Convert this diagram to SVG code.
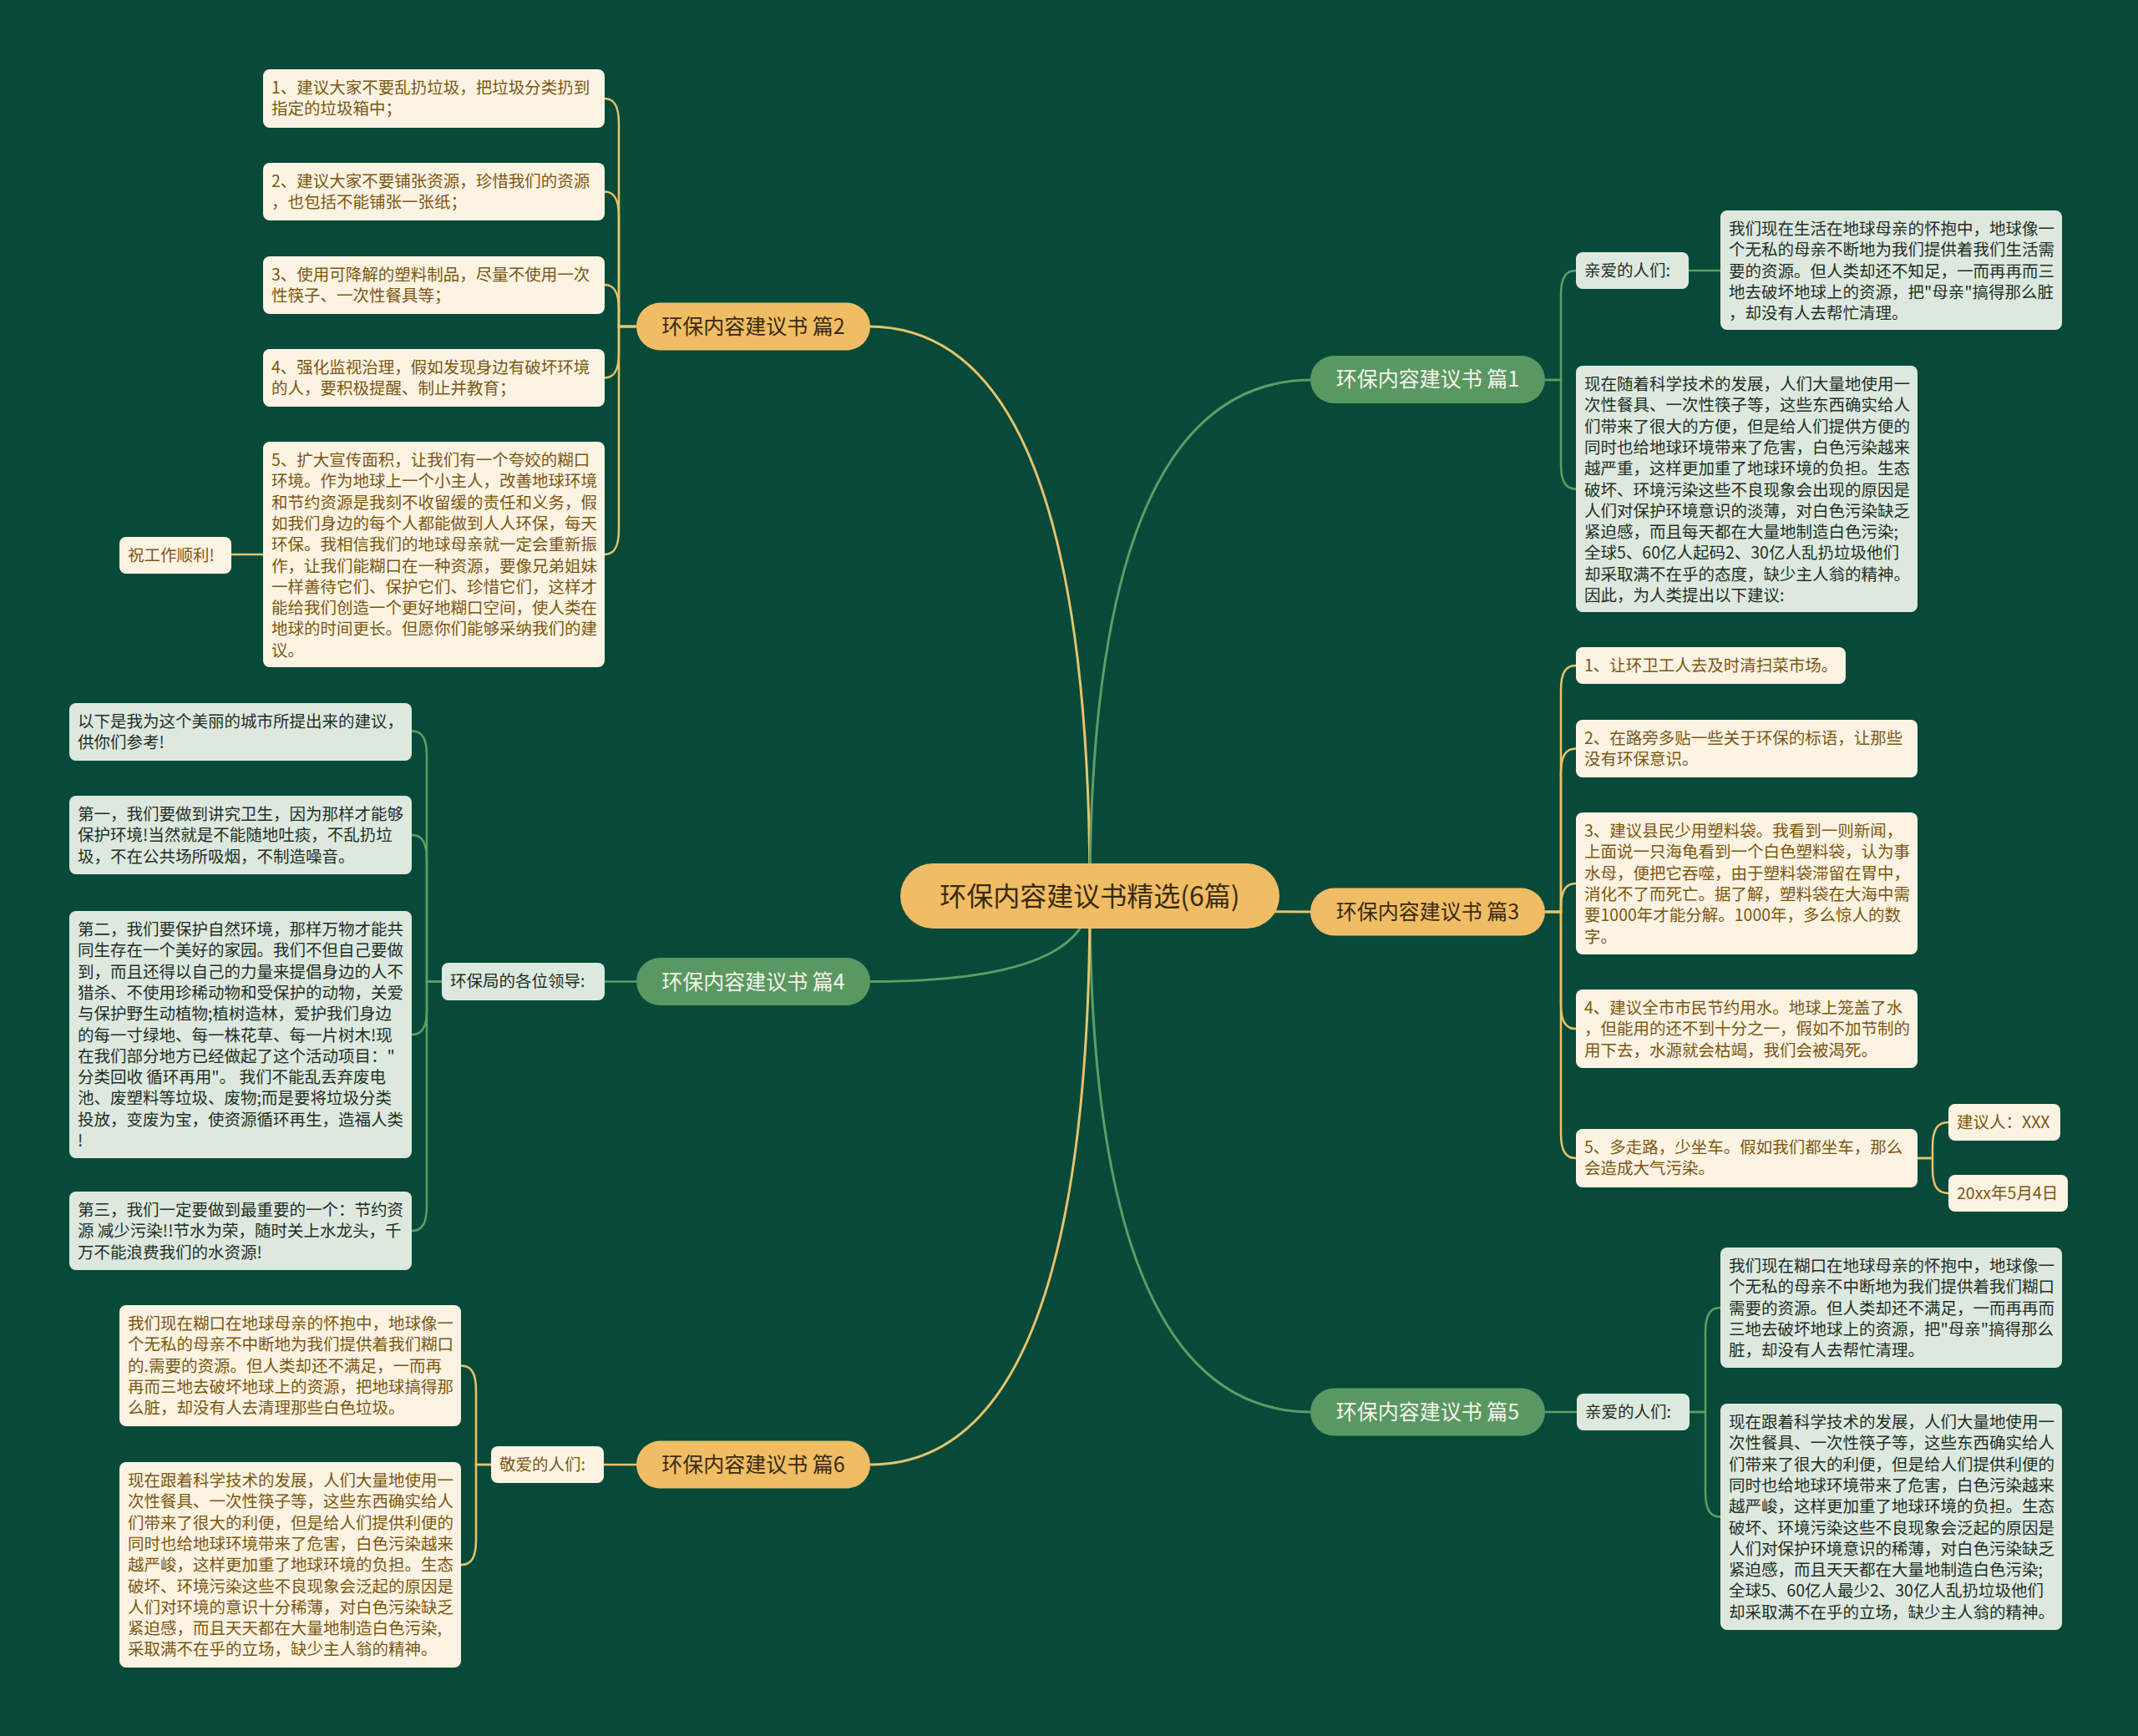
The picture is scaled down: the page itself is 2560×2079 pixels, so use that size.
<svg xmlns="http://www.w3.org/2000/svg" width="2560" height="2079" viewBox="0 0 2560 2079">
<style>
text{font-family:"Noto Sans CJK SC","Noto Sans",sans-serif;}
.gb{fill:#fdf3e2;}
.gt{fill:#7b5712;font-size:19.5px;}
.lb{fill:#dde9df;}
.lt{fill:#1f2f25;font-size:19.5px;}
.pg{fill:#f0bd64;}
.pn{fill:#5a9862;}
.tg{fill:#3a2a10;font-size:25px;text-anchor:middle;}
.tn{fill:#f4f4ea;font-size:25px;text-anchor:middle;}
.cg{fill:none;stroke:#e7c46b;stroke-width:2.5;}
.cn{fill:none;stroke:#5d9e66;stroke-width:2.5;}
.m{stroke-width:3;}
</style>
<rect width="2560" height="2079" fill="#084a3a"/>
<g id="connectors">
<path class="cg m" d="M1305,1073 Q1305,391 1040,391"/>
<path class="cn m" d="M1305,1073 Q1305,455 1571,455"/>
<path class="cg m" d="M1305,1073 Q1305,1092 1571,1092"/>
<path class="cn m" d="M1305,1073 Q1305,1175.5 1042,1175.5"/>
<path class="cn m" d="M1305,1073 Q1305,1691 1571,1691"/>
<path class="cg m" d="M1305,1073 Q1305,1754 1042,1754"/>
<path class="cn" d="M1850,455 H1869 V354 C1869,332 1875,324 1887,324"/>
<path class="cn" d="M1850,455 H1869 V555.5 C1869,577.5 1875,585.5 1887,585.5"/>
<path class="cn" d="M2022,324 H2060"/>
<path class="cg" d="M1850,1092 H1869 V827 C1869,805 1875,797 1887,797"/>
<path class="cg" d="M1850,1092 H1869 V926.5 C1869,904.5 1875,896.5 1887,896.5"/>
<path class="cg" d="M1850,1092 H1869 V1088 C1869,1066 1875,1058 1887,1058"/>
<path class="cg" d="M1850,1092 H1869 V1202 C1869,1224 1875,1232 1887,1232"/>
<path class="cg" d="M1850,1092 H1869 V1357 C1869,1379 1875,1387 1887,1387"/>
<path class="cg" d="M2296,1387 H2314 V1374 C2314,1352 2320,1344 2333,1344"/>
<path class="cg" d="M2296,1387 H2314 V1399 C2314,1421 2320,1429 2333,1429"/>
<path class="cg" d="M762,391 H741 V148 C741,126 735,118 724,118"/>
<path class="cg" d="M762,391 H741 V259.5 C741,237.5 735,229.5 724,229.5"/>
<path class="cg" d="M762,391 H741 V371 C741,349 735,341 724,341"/>
<path class="cg" d="M762,391 H741 V422.5 C741,444.5 735,452.5 724,452.5"/>
<path class="cg" d="M762,391 H741 V634 C741,656 735,664 724,664"/>
<path class="cg" d="M316,664 H277"/>
<path class="cn" d="M762,1175.5 H724"/>
<path class="cn" d="M529,1175.5 H511 V905.5 C511,883.5 505,875.5 493,875.5"/>
<path class="cn" d="M529,1175.5 H511 V1030 C511,1008 505,1000 493,1000"/>
<path class="cn" d="M529,1175.5 H511 V1209 C511,1231 505,1239 493,1239"/>
<path class="cn" d="M529,1175.5 H511 V1444 C511,1466 505,1474 493,1474"/>
<path class="cn" d="M1850,1691 H1888"/>
<path class="cn" d="M2023,1691 H2042 V1596 C2042,1574 2048,1566 2060,1566"/>
<path class="cn" d="M2023,1691 H2042 V1786.5 C2042,1808.5 2048,1816.5 2060,1816.5"/>
<path class="cg" d="M762,1754 H723"/>
<path class="cg" d="M588,1754 H570 V1665.5 C570,1643.5 564,1635.5 552,1635.5"/>
<path class="cg" d="M588,1754 H570 V1844 C570,1866 564,1874 552,1874"/>
</g>
<g id="root">
<rect class="pg" x="1078" y="1034" width="454" height="78" rx="39"/>
<text x="1305" y="1085" style="font-size:32px;fill:#3a2a10;text-anchor:middle">环保内容建议书精选(6篇)</text>
</g>
<g id="b1"><rect class="pn" x="1569" y="426" width="281" height="57" rx="28.5"/><text class="tn" x="1709.5" y="463">环保内容建议书 篇1</text></g>
<g id="b2"><rect class="pg" x="762" y="362.5" width="280" height="57" rx="28.5"/><text class="tg" x="902" y="400">环保内容建议书 篇2</text></g>
<g id="b3"><rect class="pg" x="1569" y="1063.5" width="281" height="57" rx="28.5"/><text class="tg" x="1709.5" y="1101">环保内容建议书 篇3</text></g>
<g id="b4"><rect class="pn" x="762" y="1147" width="280" height="57" rx="28.5"/><text class="tn" x="902" y="1184.5">环保内容建议书 篇4</text></g>
<g id="b5"><rect class="pn" x="1569" y="1662.5" width="281" height="57" rx="28.5"/><text class="tn" x="1709.5" y="1700">环保内容建议书 篇5</text></g>
<g id="b6"><rect class="pg" x="762" y="1725.5" width="280" height="57" rx="28.5"/><text class="tg" x="902" y="1763">环保内容建议书 篇6</text></g>

<g id="b1-l"><rect class="lb" x="1887" y="302" width="135" height="44" rx="8"/><text class="lt" x="1897" y="331">亲爱的人们:</text></g>
<g id="b1-t1"><rect class="lb" x="2060" y="252" width="409" height="143" rx="8"/>
<text class="lt" x="2070" y="281"><tspan x="2070">我们现在生活在地球母亲的怀抱中，地球像一</tspan><tspan x="2070" dy="25.3">个无私的母亲不断地为我们提供着我们生活需</tspan><tspan x="2070" dy="25.3">要的资源。但人类却还不知足，一而再再而三</tspan><tspan x="2070" dy="25.3">地去破坏地球上的资源，把"母亲"搞得那么脏</tspan><tspan x="2070" dy="25.3">，却没有人去帮忙清理。</tspan></text></g>
<g id="b1-t2"><rect class="lb" x="1887" y="438" width="409" height="295" rx="8"/>
<text class="lt" x="1897" y="467"><tspan x="1897">现在随着科学技术的发展，人们大量地使用一</tspan><tspan x="1897" dy="25.3">次性餐具、一次性筷子等，这些东西确实给人</tspan><tspan x="1897" dy="25.3">们带来了很大的方便，但是给人们提供方便的</tspan><tspan x="1897" dy="25.3">同时也给地球环境带来了危害，白色污染越来</tspan><tspan x="1897" dy="25.3">越严重，这样更加重了地球环境的负担。生态</tspan><tspan x="1897" dy="25.3">破坏、环境污染这些不良现象会出现的原因是</tspan><tspan x="1897" dy="25.3">人们对保护环境意识的淡薄，对白色污染缺乏</tspan><tspan x="1897" dy="25.3">紧迫感，而且每天都在大量地制造白色污染;</tspan><tspan x="1897" dy="25.3">全球5、60亿人起码2、30亿人乱扔垃圾他们</tspan><tspan x="1897" dy="25.3">却采取满不在乎的态度，缺少主人翁的精神。</tspan><tspan x="1897" dy="25.3">因此，为人类提出以下建议:</tspan></text></g>

<g id="b2-1"><rect class="gb" x="315" y="83" width="409" height="70" rx="8"/>
<text class="gt" x="325" y="112"><tspan x="325">1、建议大家不要乱扔垃圾，把垃圾分类扔到</tspan><tspan x="325" dy="25.3">指定的垃圾箱中；</tspan></text></g>
<g id="b2-2"><rect class="gb" x="315" y="195" width="409" height="69" rx="8"/>
<text class="gt" x="325" y="224"><tspan x="325">2、建议大家不要铺张资源，珍惜我们的资源</tspan><tspan x="325" dy="25.3">，也包括不能铺张一张纸；</tspan></text></g>
<g id="b2-3"><rect class="gb" x="315" y="307" width="409" height="69" rx="8"/>
<text class="gt" x="325" y="336"><tspan x="325">3、使用可降解的塑料制品，尽量不使用一次</tspan><tspan x="325" dy="25.3">性筷子、一次性餐具等；</tspan></text></g>
<g id="b2-4"><rect class="gb" x="315" y="418" width="409" height="69" rx="8"/>
<text class="gt" x="325" y="447"><tspan x="325">4、强化监视治理，假如发现身边有破坏环境</tspan><tspan x="325" dy="25.3">的人，要积极提醒、制止并教育；</tspan></text></g>
<g id="b2-5"><rect class="gb" x="315" y="529" width="409" height="270" rx="8"/>
<text class="gt" x="325" y="558"><tspan x="325">5、扩大宣传面积，让我们有一个夸姣的糊口</tspan><tspan x="325" dy="25.3">环境。作为地球上一个小主人，改善地球环境</tspan><tspan x="325" dy="25.3">和节约资源是我刻不收留缓的责任和义务，假</tspan><tspan x="325" dy="25.3">如我们身边的每个人都能做到人人环保，每天</tspan><tspan x="325" dy="25.3">环保。我相信我们的地球母亲就一定会重新振</tspan><tspan x="325" dy="25.3">作，让我们能糊口在一种资源，要像兄弟姐妹</tspan><tspan x="325" dy="25.3">一样善待它们、保护它们、珍惜它们，这样才</tspan><tspan x="325" dy="25.3">能给我们创造一个更好地糊口空间，使人类在</tspan><tspan x="325" dy="25.3">地球的时间更长。但愿你们能够采纳我们的建</tspan><tspan x="325" dy="25.3">议。</tspan></text></g>
<g id="b2-5-1"><rect class="gb" x="143" y="643" width="134" height="44" rx="8"/><text class="gt" x="153" y="672">祝工作顺利!</text></g>

<g id="b3-1"><rect class="gb" x="1887" y="775" width="323" height="44" rx="8"/><text class="gt" x="1897" y="804">1、让环卫工人去及时清扫菜市场。</text></g>
<g id="b3-2"><rect class="gb" x="1887" y="862" width="409" height="69" rx="8"/>
<text class="gt" x="1897" y="891"><tspan x="1897">2、在路旁多贴一些关于环保的标语，让那些</tspan><tspan x="1897" dy="25.3">没有环保意识。</tspan></text></g>
<g id="b3-3"><rect class="gb" x="1887" y="973" width="409" height="170" rx="8"/>
<text class="gt" x="1897" y="1002"><tspan x="1897">3、建议县民少用塑料袋。我看到一则新闻，</tspan><tspan x="1897" dy="25.3">上面说一只海龟看到一个白色塑料袋，认为事</tspan><tspan x="1897" dy="25.3">水母，便把它吞噬，由于塑料袋滞留在胃中，</tspan><tspan x="1897" dy="25.3">消化不了而死亡。据了解，塑料袋在大海中需</tspan><tspan x="1897" dy="25.3">要1000年才能分解。1000年，多么惊人的数</tspan><tspan x="1897" dy="25.3">字。</tspan></text></g>
<g id="b3-4"><rect class="gb" x="1887" y="1185" width="409" height="94" rx="8"/>
<text class="gt" x="1897" y="1214"><tspan x="1897">4、建议全市市民节约用水。地球上笼盖了水</tspan><tspan x="1897" dy="25.3">，但能用的还不到十分之一，假如不加节制的</tspan><tspan x="1897" dy="25.3">用下去，水源就会枯竭，我们会被渴死。</tspan></text></g>
<g id="b3-5"><rect class="gb" x="1887" y="1352" width="409" height="70" rx="8"/>
<text class="gt" x="1897" y="1381"><tspan x="1897">5、多走路，少坐车。假如我们都坐车，那么</tspan><tspan x="1897" dy="25.3">会造成大气污染。</tspan></text></g>
<g id="b3-5-1"><rect class="gb" x="2333" y="1322" width="134" height="44" rx="8"/><text class="gt" x="2343" y="1351">建议人：XXX</text></g>
<g id="b3-5-2"><rect class="gb" x="2333" y="1407" width="143" height="44" rx="8"/><text class="gt" x="2343" y="1436">20xx年5月4日</text></g>

<g id="b4-l"><rect class="lb" x="529" y="1153" width="195" height="45" rx="8"/><text class="lt" x="539" y="1182">环保局的各位领导:</text></g>
<g id="b4-1"><rect class="lb" x="83" y="842" width="410" height="69" rx="8"/>
<text class="lt" x="93" y="871"><tspan x="93">以下是我为这个美丽的城市所提出来的建议，</tspan><tspan x="93" dy="25.3">供你们参考!</tspan></text></g>
<g id="b4-2"><rect class="lb" x="83" y="953" width="410" height="94" rx="8"/>
<text class="lt" x="93" y="982"><tspan x="93">第一，我们要做到讲究卫生，因为那样才能够</tspan><tspan x="93" dy="25.3">保护环境!当然就是不能随地吐痰，不乱扔垃</tspan><tspan x="93" dy="25.3">圾，不在公共场所吸烟，不制造噪音。</tspan></text></g>
<g id="b4-3"><rect class="lb" x="83" y="1091" width="410" height="296" rx="8"/>
<text class="lt" x="93" y="1120"><tspan x="93">第二，我们要保护自然环境，那样万物才能共</tspan><tspan x="93" dy="25.3">同生存在一个美好的家园。我们不但自己要做</tspan><tspan x="93" dy="25.3">到，而且还得以自己的力量来提倡身边的人不</tspan><tspan x="93" dy="25.3">猎杀、不使用珍稀动物和受保护的动物，关爱</tspan><tspan x="93" dy="25.3">与保护野生动植物;植树造林，爱护我们身边</tspan><tspan x="93" dy="25.3">的每一寸绿地、每一株花草、每一片树木!现</tspan><tspan x="93" dy="25.3">在我们部分地方已经做起了这个活动项目："</tspan><tspan x="93" dy="25.3">分类回收 循环再用"。 我们不能乱丢弃废电</tspan><tspan x="93" dy="25.3">池、废塑料等垃圾、废物;而是要将垃圾分类</tspan><tspan x="93" dy="25.3">投放，变废为宝，使资源循环再生，造福人类</tspan><tspan x="93" dy="25.3">!</tspan></text></g>
<g id="b4-4"><rect class="lb" x="83" y="1427" width="410" height="94" rx="8"/>
<text class="lt" x="93" y="1456"><tspan x="93">第三，我们一定要做到最重要的一个：节约资</tspan><tspan x="93" dy="25.3">源 减少污染!!节水为荣，随时关上水龙头，千</tspan><tspan x="93" dy="25.3">万不能浪费我们的水资源!</tspan></text></g>

<g id="b5-l"><rect class="lb" x="1888" y="1669" width="135" height="44" rx="8"/><text class="lt" x="1898" y="1698">亲爱的人们:</text></g>
<g id="b5-1"><rect class="lb" x="2060" y="1494" width="409" height="144" rx="8"/>
<text class="lt" x="2070" y="1523"><tspan x="2070">我们现在糊口在地球母亲的怀抱中，地球像一</tspan><tspan x="2070" dy="25.3">个无私的母亲不中断地为我们提供着我们糊口</tspan><tspan x="2070" dy="25.3">需要的资源。但人类却还不满足，一而再再而</tspan><tspan x="2070" dy="25.3">三地去破坏地球上的资源，把"母亲"搞得那么</tspan><tspan x="2070" dy="25.3">脏，却没有人去帮忙清理。</tspan></text></g>
<g id="b5-2"><rect class="lb" x="2060" y="1681" width="409" height="271" rx="8"/>
<text class="lt" x="2070" y="1710"><tspan x="2070">现在跟着科学技术的发展，人们大量地使用一</tspan><tspan x="2070" dy="25.3">次性餐具、一次性筷子等，这些东西确实给人</tspan><tspan x="2070" dy="25.3">们带来了很大的利便，但是给人们提供利便的</tspan><tspan x="2070" dy="25.3">同时也给地球环境带来了危害，白色污染越来</tspan><tspan x="2070" dy="25.3">越严峻，这样更加重了地球环境的负担。生态</tspan><tspan x="2070" dy="25.3">破坏、环境污染这些不良现象会泛起的原因是</tspan><tspan x="2070" dy="25.3">人们对保护环境意识的稀薄，对白色污染缺乏</tspan><tspan x="2070" dy="25.3">紧迫感，而且天天都在大量地制造白色污染;</tspan><tspan x="2070" dy="25.3">全球5、60亿人最少2、30亿人乱扔垃圾他们</tspan><tspan x="2070" dy="25.3">却采取满不在乎的立场，缺少主人翁的精神。</tspan></text></g>

<g id="b6-l"><rect class="gb" x="588" y="1732" width="135" height="44" rx="8"/><text class="gt" x="598" y="1761">敬爱的人们:</text></g>
<g id="b6-1"><rect class="gb" x="143" y="1563" width="409" height="145" rx="8"/>
<text class="gt" x="153" y="1592"><tspan x="153">我们现在糊口在地球母亲的怀抱中，地球像一</tspan><tspan x="153" dy="25.3">个无私的母亲不中断地为我们提供着我们糊口</tspan><tspan x="153" dy="25.3">的.需要的资源。但人类却还不满足，一而再</tspan><tspan x="153" dy="25.3">再而三地去破坏地球上的资源，把地球搞得那</tspan><tspan x="153" dy="25.3">么脏，却没有人去清理那些白色垃圾。</tspan></text></g>
<g id="b6-2"><rect class="gb" x="143" y="1751" width="409" height="246" rx="8"/>
<text class="gt" x="153" y="1780"><tspan x="153">现在跟着科学技术的发展，人们大量地使用一</tspan><tspan x="153" dy="25.3">次性餐具、一次性筷子等，这些东西确实给人</tspan><tspan x="153" dy="25.3">们带来了很大的利便，但是给人们提供利便的</tspan><tspan x="153" dy="25.3">同时也给地球环境带来了危害，白色污染越来</tspan><tspan x="153" dy="25.3">越严峻，这样更加重了地球环境的负担。生态</tspan><tspan x="153" dy="25.3">破坏、环境污染这些不良现象会泛起的原因是</tspan><tspan x="153" dy="25.3">人们对环境的意识十分稀薄，对白色污染缺乏</tspan><tspan x="153" dy="25.3">紧迫感，而且天天都在大量地制造白色污染,</tspan><tspan x="153" dy="25.3">采取满不在乎的立场，缺少主人翁的精神。</tspan></text></g>
</svg>
